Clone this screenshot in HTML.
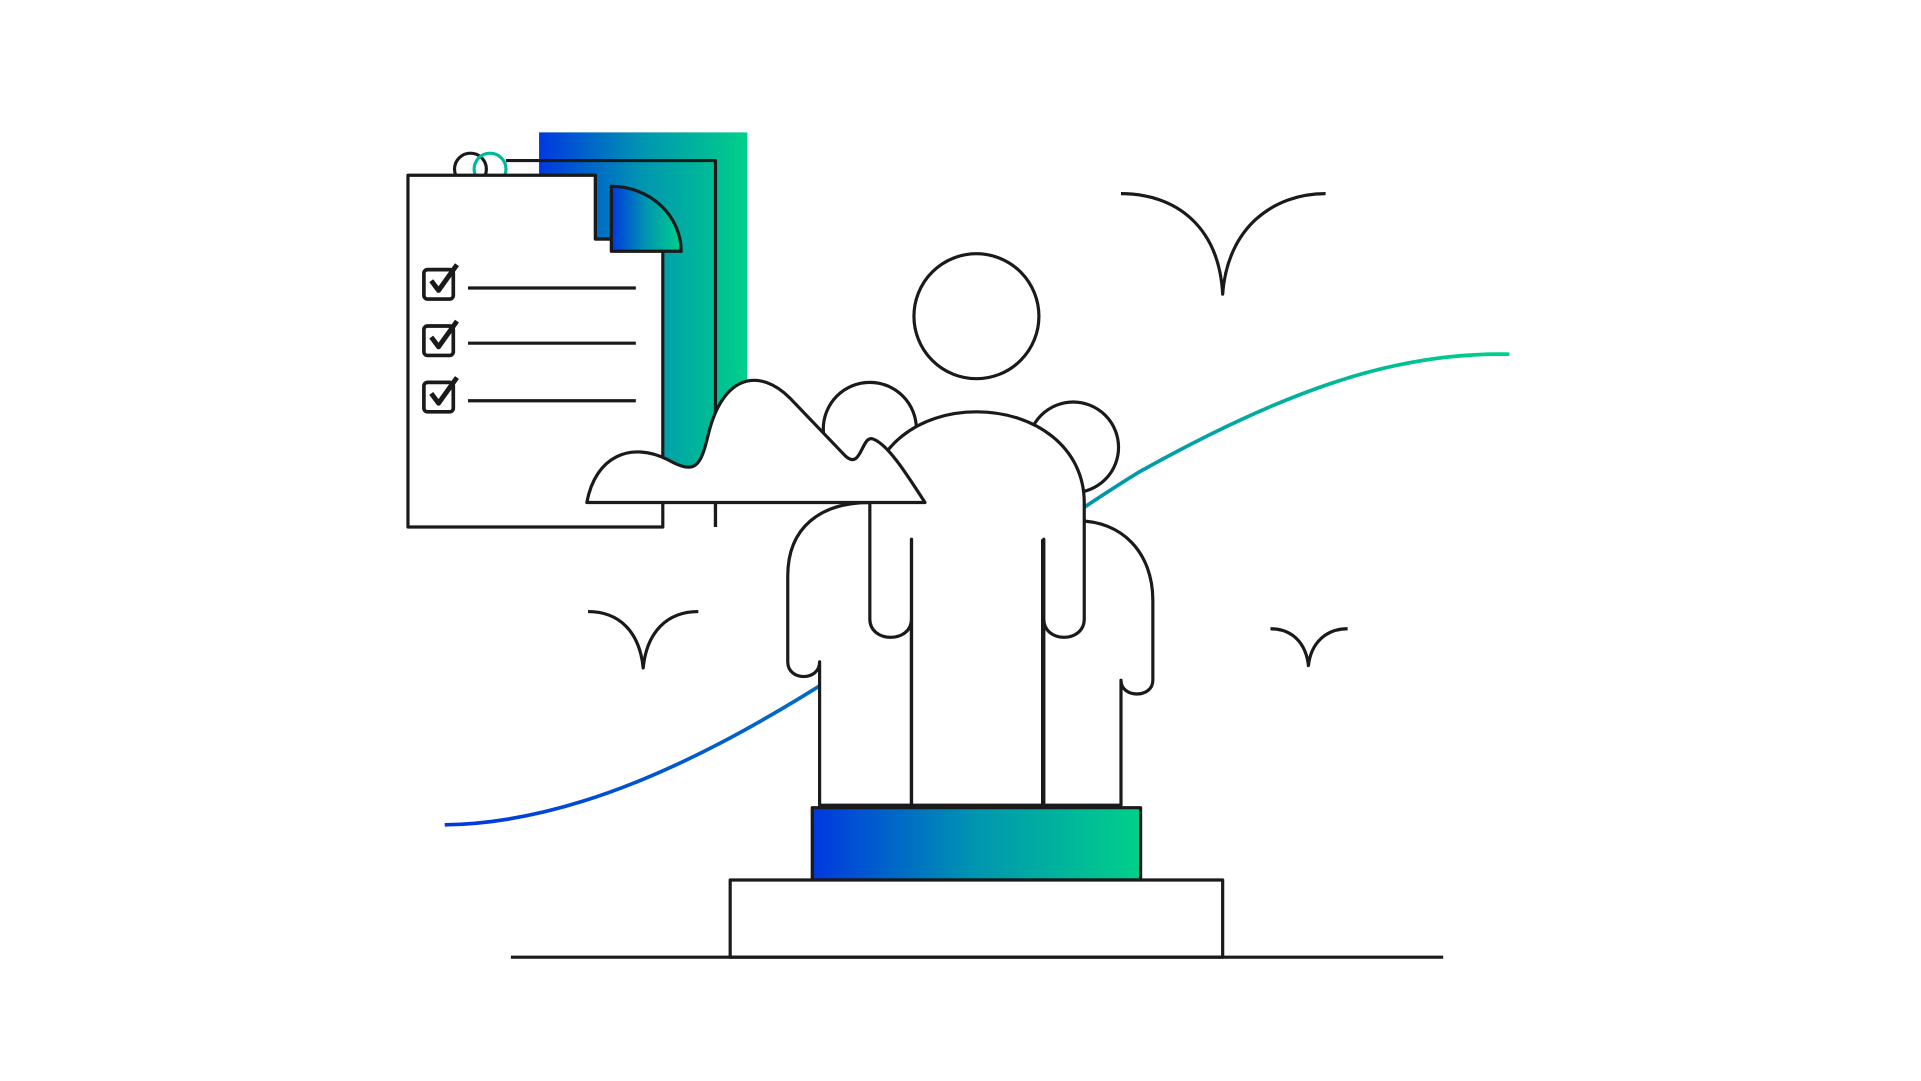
<!DOCTYPE html>
<html><head><meta charset="utf-8"><style>
html,body{margin:0;padding:0;background:#fff;width:1921px;height:1081px;overflow:hidden}
svg{display:block}
</style></head><body>
<svg width="1921" height="1081" viewBox="0 0 1568 882" preserveAspectRatio="none" xmlns="http://www.w3.org/2000/svg">
<defs>
<linearGradient id="g" x1="0" y1="0" x2="1" y2="0">
<stop offset="0" stop-color="#0038e0"/><stop offset="0.5" stop-color="#0096b0"/><stop offset="1" stop-color="#00d08a"/>
</linearGradient>
<linearGradient id="gc" gradientUnits="userSpaceOnUse" x1="363" y1="0" x2="1232" y2="0">
<stop offset="0" stop-color="#0038e0"/><stop offset="1" stop-color="#00d08a"/>
</linearGradient>
</defs>
<g fill="none" stroke="#1a1a1a" stroke-width="2.6" stroke-linecap="butt" stroke-linejoin="round">
<path d="M363 673 C 560 670, 760 490, 930 385 C 1050 318, 1140 287, 1232 289" stroke="url(#gc)" stroke-width="3"/>
<rect x="440" y="108" width="170" height="302" fill="url(#g)" stroke="none"/>
<circle cx="384" cy="138" r="13"/>
<circle cx="400" cy="138" r="13" stroke="#00b89a"/>
<path d="M413 131 H584 V430"/>
<path d="M333 143 H486 V195 H541 V430 H333 Z" fill="#fff"/>
<path d="M486 143 V195 H541" />
<path d="M499 152 A57 53 0 0 1 556 205 H499 Z" fill="url(#g)"/>
<g stroke-width="3">
<rect x="346" y="220" width="24" height="24" rx="3"/>
<rect x="346" y="266" width="24" height="24" rx="3"/>
<rect x="346" y="312" width="24" height="24" rx="3"/>
<g stroke-width="4"><path d="M352 229 l6 8 l15 -21"/><path d="M352 275 l6 8 l15 -21"/><path d="M352 321 l6 8 l15 -21"/></g>
<path d="M382 235 H519 M382 280 H519 M382 327 H519" stroke-width="2.6"/>
</g>
<circle cx="710" cy="350" r="38" fill="#fff"/>
<path d="M669 657 V540 C669 556,643 556,643 540 V470 C643 430,670 410,710 410 H744 V657 Z" fill="#fff"/>
<circle cx="876" cy="365" r="37" fill="#fff"/>
<path d="M915 657 V555 C915 570,941 570,941 555 V490 C941 450,915 425,880 425 H851 V657 Z" fill="#fff"/>
<circle cx="797" cy="258" r="51" fill="#fff"/>
<path d="M744 657 V440 V505 C744 525,710 525,710 505 V410 C710 365,750 336,797 336 C845 336,885 365,885 410 V505 C885 525,852 525,852 505 V440 V657 Z" fill="#fff"/>
<path d="M744 440 V657 M851 440 V657"/>
<path d="M479 410 C 486 372, 515 360, 545 375 C 568 388, 572 380, 578 355 C 590 305, 620 300, 645 325 L 690 372 C 703 384, 703 356, 712 358 C 725 362, 742 390, 755 410 Z" fill="#fff"/>
<path d="M584 410 V430"/>
<rect x="663" y="659" width="268" height="59" fill="url(#g)"/>
<rect x="596" y="718" width="402" height="63" fill="#fff"/>
<path d="M417 781 H1178"/>
<path d="M915 158 C 960 158, 995 185, 998 240 C 1002 185, 1040 158, 1082 158"/>
<path d="M480 499 C 505 499, 522 515, 525 545 C 528 515, 545 499, 570 499"/>
<path d="M1037 513 C 1055 513, 1066 525, 1068 543 C 1070 525, 1082 513, 1100 513"/>
</g>
</svg>
</body></html>
